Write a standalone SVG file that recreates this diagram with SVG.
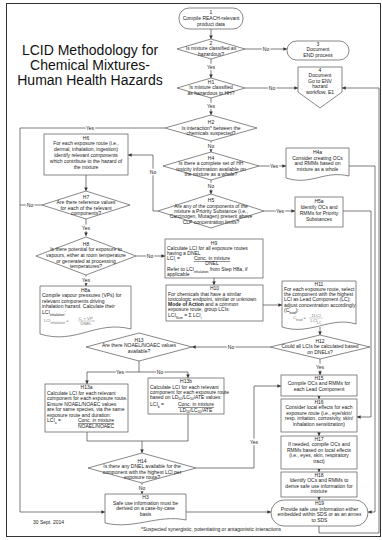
<svg xmlns="http://www.w3.org/2000/svg" width="382" height="540" viewBox="0 0 382 540">
  <defs>
    <marker id="ah" viewBox="0 0 6 6" refX="6" refY="3" markerWidth="3.6" markerHeight="3.6" markerUnits="userSpaceOnUse" orient="auto">
      <path d="M0,0 L6,3 L0,6 z" fill="#333"/>
    </marker>
    <style>
      .b { fill: #fff; stroke: #555; stroke-width: 0.7; }
      .c { fill: none; stroke: #444; stroke-width: 0.7; }
      .a { marker-end: url(#ah); }
      text { font-family: "Liberation Sans", Arial, sans-serif; font-size: 5px; fill: #222; }
      .m { text-anchor: middle; }
      .lb { text-anchor: middle; paint-order: stroke; stroke: #fff; stroke-width: 2.4px; }
      .t { font-size: 14px; text-anchor: middle; fill: #111; }
      .f { fill: #777; font-size: 4.2px; }
      .u { text-decoration: underline; }
      .sub { font-size: 3.4px; }
    </style>
  </defs>

  <rect x="6.5" y="3.5" width="374" height="533" fill="#fff" stroke="#333" stroke-width="1"/>

  <!-- title -->
  <g id="title">
    <text class="t" x="90" y="55">LCID Methodology for</text>
    <text class="t" x="90" y="70">Chemical Mixtures-</text>
    <text class="t" x="90" y="85">Human Health Hazards</text>
  </g>

  <!-- connectors -->
  <g id="connectors">
    <path class="c a" d="M211,29 V39"/>
    <path class="c a" d="M245,49 H287"/>
    <path class="c a" d="M211,59 V78"/>
    <path class="c a" d="M245,88 H298"/>
    <path class="c a" d="M211,98 V115"/>
    <path class="c a" d="M165,128 H20 V512 H105"/>
    <path class="c a" d="M211,141 V152"/>
    <path class="c a" d="M259,166 H286"/>
    <path class="c a" d="M349,166 H375 V512 H368"/>
    <path class="c a" d="M211,180 V194"/>
    <path class="c a" d="M264,211 H295"/>
    <path class="c a" d="M343,211 H371 V417 H357"/>
    <path class="c a" d="M158,211 H153 V155 H128"/>
    <path class="c a" d="M86,175 V191"/>
    <path class="c" d="M42,205 H20"/>
    <path class="c a" d="M86,219 V236"/>
    <path class="c a" d="M136,256 H165"/>
    <path class="c a" d="M86,275 V286"/>
    <path class="c a" d="M214,278 V285"/>
    <path class="c a" d="M263,305 H282"/>
    <path class="c a" d="M320,327 V335"/>
    <path class="c a" d="M270,347 H192"/>
    <path class="c a" d="M320,359 V375"/>
    <path class="c a" d="M139,361 V372 H87 V384"/>
    <path class="c a" d="M139,372 H188 V378"/>
    <path class="c" d="M87,432 V441 H188 V414"/>
    <path class="c a" d="M142,441 V453"/>
    <path class="c a" d="M196,468 H254 V386 H281"/>
    <path class="c a" d="M142,483 V494"/>
    <path class="c a" d="M186,512 H271"/>
    <path class="c a" d="M319,396 V399"/>
    <path class="c a" d="M319,432 V436"/>
    <path class="c a" d="M319,469 V472"/>
    <path class="c a" d="M319,497 V500"/>
    <path class="c a" d="M319,526 V533 H379 V88 H342"/>

    <text class="lb" x="266" y="50.6">No</text>
    <text class="lb" x="211" y="68.5">Yes</text>
    <text class="lb" x="272" y="89.6">No</text>
    <text class="lb" x="211" y="107.5">Yes</text>
    <text class="lb" x="90" y="129.6">Yes</text>
    <text class="lb" x="211" y="148">No</text>
    <text class="lb" x="274" y="167.6">Yes</text>
    <text class="lb" x="211" y="188">No</text>
    <text class="lb" x="280" y="212.6">Yes</text>
    <text class="lb" x="153" y="174">No</text>
    <text class="lb" x="30" y="206.6">No</text>
    <text class="lb" x="86" y="230">Yes</text>
    <text class="lb" x="150" y="257.6">No</text>
    <text class="lb" x="86" y="282">Yes</text>
    <text class="lb" x="231" y="348.6">No</text>
    <text class="lb" x="320" y="368.5">Yes</text>
    <text class="lb" x="120" y="373.6">Yes</text>
    <text class="lb" x="160" y="373.6">No</text>
    <text class="lb" x="254" y="444">Yes</text>
    <text class="lb" x="142" y="490">No</text>
  </g>

  <g id="n1">
    <rect class="b" x="179" y="8" width="64" height="21" rx="10"/>
    <text class="m" x="211" y="13.5">1</text>
    <text class="m" x="211" y="19.5">Compile REACH-relevant</text>
    <text class="m" x="211" y="25.5">product data</text>
  </g>

  <g id="n2">
    <polygon class="b" points="177,49 211,39 245,49 211,59"/>
    <text class="m" x="211" y="44.5">2</text>
    <text class="m" x="211" y="50">Is mixture classified as</text>
    <text class="m" x="211" y="55.5">hazardous?</text>
  </g>

  <g id="n3">
    <rect class="b" x="287" y="41" width="62" height="19" rx="9.5"/>
    <text class="m" x="318" y="45.8">3</text>
    <text class="m" x="318" y="51.4">Document</text>
    <text class="m" x="318" y="57">END process</text>
  </g>

  <g id="H1">
    <polygon class="b" points="177,88 211,78 245,88 211,98"/>
    <text class="m" x="211" y="83.5">H1</text>
    <text class="m" x="211" y="89">Is mixture classified</text>
    <text class="m" x="211" y="94.5">as hazardous to HH?</text>
  </g>

  <g id="n4">
    <path class="b" d="M298,67 H342 V92 L320,108 L298,92 Z"/>
    <text class="m" x="320" y="71.5">4</text>
    <text class="m" x="320" y="77">Document</text>
    <text class="m" x="320" y="82.5">Go to ENV</text>
    <text class="m" x="320" y="88">hazard</text>
    <text class="m" x="320" y="93.5">workflow, E1</text>
  </g>

  <g id="H2">
    <polygon class="b" points="165,128 211,115 257,128 211,141"/>
    <text class="m" x="211" y="124">H2</text>
    <text class="m" x="211" y="129.5">Is interaction* between the</text>
    <text class="m" x="211" y="135">chemicals suspected?</text>
  </g>

  <g id="H4">
    <polygon class="b" points="163,166 211,152 259,166 211,180"/>
    <text class="m" x="211" y="159.5">H4</text>
    <text class="m" x="211" y="165">Is there a complete set of HH</text>
    <text class="m" x="211" y="170.5">toxicity information available on</text>
    <text class="m" x="211" y="176">the mixture as a whole?</text>
  </g>

  <g id="H4a">
    <path class="b" d="M286,148 H349 V176 C324,170 311,186 286,178 Z"/>
    <text class="m" x="317.5" y="154">H4a</text>
    <text class="m" x="317.5" y="159.8">Consider creating OCs</text>
    <text class="m" x="317.5" y="165.4">and RMMs based on</text>
    <text class="m" x="317.5" y="171">mixture as a whole</text>
  </g>

  <g id="H5">
    <polygon class="b" points="158,211 211,194 264,211 211,228"/>
    <text class="m" x="211" y="202.3">H5</text>
    <text class="m" x="211" y="207.6">Are any of the components of the</text>
    <text class="m" x="211" y="212.9">mixture a Priority Substance (i.e.,</text>
    <text class="m" x="211" y="218.2">Carcinogen, Mutagen) present above</text>
    <text class="m" x="211" y="223.5">CLP concentration limits?</text>
  </g>

  <g id="H5a">
    <rect class="b" x="295" y="197" width="48" height="30"/>
    <text class="m" x="319" y="203">H5a</text>
    <text class="m" x="319" y="209">Identify OCs and</text>
    <text class="m" x="319" y="215">RMMs for Priority</text>
    <text class="m" x="319" y="221">Substances</text>
  </g>

  <g id="H6">
    <rect class="b" x="44" y="134" width="84" height="41"/>
    <text class="m" x="86" y="139.5">H6</text>
    <text class="m" x="86" y="145.3">For each exposure route (i.e.,</text>
    <text class="m" x="86" y="151.1">dermal, inhalation, ingestion)</text>
    <text class="m" x="86" y="156.9">identify relevant components</text>
    <text class="m" x="86" y="162.7">which contribute to the hazard of</text>
    <text class="m" x="86" y="168.5">the mixture</text>
  </g>

  <g id="H7">
    <polygon class="b" points="42,205 86,191 130,205 86,219"/>
    <text class="m" x="86" y="198.9">H7</text>
    <text class="m" x="86" y="204.2">Are there reference values</text>
    <text class="m" x="86" y="209.5">for each of the relevant</text>
    <text class="m" x="86" y="214.8">components?</text>
  </g>

  <g id="H8">
    <polygon class="b" points="36,256 86,237 136,256 86,275"/>
    <text class="m" x="86" y="245.8">H8</text>
    <text class="m" x="86" y="251.4">Is there potential for exposure to</text>
    <text class="m" x="86" y="257">vapours, either at room temperature</text>
    <text class="m" x="86" y="262.6">or generated at processing</text>
    <text class="m" x="86" y="268.2">temperatures?</text>
  </g>

  <g id="H8a">
    <path class="b" d="M40,286 H131 V329 C96,320 76,345 40,334 Z"/>
    <text class="m" x="85.5" y="291.5">H8a</text>
    <text x="42" y="297">Compile vapour pressures (VPs) for</text>
    <text x="42" y="302.5">relevant components driving</text>
    <text x="42" y="308">inhalation hazard.  Calculate their</text>
    <text x="42" y="313.5">LCI<tspan class="sub" baseline-shift="sub">inhalation</tspan>:</text>
    <text class="f" x="44" y="322">LCI<tspan class="sub" baseline-shift="sub">inhalation</tspan> =</text>
    <text class="f m" x="86" y="320">C<tspan class="sub" baseline-shift="sub">i</tspan> × VP<tspan class="sub" baseline-shift="sub">i</tspan></text>
    <path d="M78,321 H95" stroke="#888" stroke-width="0.4"/>
    <text class="f m" x="86" y="325">DNEL</text>
  </g>

  <g id="H9">
    <rect class="b" x="165" y="239" width="98" height="39"/>
    <text class="m" x="214" y="244.5">H9</text>
    <text x="167" y="249.7">Calculate LCI for all exposure routes</text>
    <text x="167" y="254.9">having a DNEL</text>
    <text x="167" y="260.1">LCI<tspan class="sub" baseline-shift="sub">i</tspan> =</text>
    <text class="m u" x="212" y="260.1">Conc. in mixture</text>
    <text class="m" x="212" y="265.3">DNEL</text>
    <text x="167" y="270.5">Refer to LCI<tspan class="sub" baseline-shift="sub">inhalation</tspan> from Step H8a, if</text>
    <text x="167" y="275.5">applicable</text>
  </g>

  <g id="H10">
    <rect class="b" x="166" y="285" width="97" height="36"/>
    <text class="m" x="214.5" y="290">H10</text>
    <text x="168" y="295.5">For chemicals that have a similar</text>
    <text x="168" y="300.8">toxicologic endpoint, similar or unknown</text>
    <text x="168" y="306"><tspan font-weight="bold">Mode of Action</tspan> and a common</text>
    <text x="168" y="311.3">exposure route, group LCIs:</text>
    <text x="168" y="316.6">LCI<tspan class="sub" baseline-shift="sub">Sum</tspan> =     Σ LCI<tspan class="sub" baseline-shift="sub">i</tspan></text>
  </g>

  <g id="H11">
    <path class="b" d="M282,281 H356 V324 C330,316 310,336 282,327 Z"/>
    <text class="m" x="319" y="285.5">H11</text>
    <text x="284" y="290.8">For each exposure route, select</text>
    <text x="284" y="296">the component with the highest</text>
    <text x="284" y="301.3">LCI as Lead Component (LC);</text>
    <text x="284" y="306.6">adjust concentration accordingly</text>
    <text x="284" y="311.9">(C<tspan class="sub" baseline-shift="sub">lead</tspan>):</text>
    <text class="f" x="293" y="319">C<tspan class="sub" baseline-shift="sub">lead</tspan> =</text>
    <text class="f m" x="316" y="317">ΣLCI</text>
    <path d="M309,318 H323" stroke="#888" stroke-width="0.4"/>
    <text class="f m" x="316" y="322">LCI<tspan class="sub" baseline-shift="sub">LC</tspan></text>
  </g>

  <g id="H12">
    <polygon class="b" points="270,347 320,335 370,347 320,359"/>
    <text class="m" x="320" y="342.5">H12</text>
    <text class="m" x="320" y="348">Could all LCIs be calculated based</text>
    <text class="m" x="320" y="353.5">on DNELs?</text>
  </g>

  <g id="H13">
    <polygon class="b" points="86,347 139,333 192,347 139,361"/>
    <text class="m" x="139" y="341.5">H13</text>
    <text class="m" x="139" y="347">Are there NOAEL/NOAEC values</text>
    <text class="m" x="139" y="352.5">available?</text>
  </g>

  <g id="H13a">
    <rect class="b" x="45" y="384" width="83" height="48"/>
    <text class="m" x="86.5" y="389">H13a</text>
    <text x="47" y="394.5">Calculate LCI for each relevant</text>
    <text x="47" y="400">component for each exposure route.</text>
    <text x="47" y="405.5">Ensure NOAEL/NOAEC values</text>
    <text x="47" y="411">are for same species, via the same</text>
    <text x="47" y="416.5">exposure route and duration:</text>
    <text x="47" y="422">LCI<tspan class="sub" baseline-shift="sub">a</tspan> =</text>
    <text class="m u" x="96" y="422">Conc. in mixture</text>
    <text class="m" x="96" y="427.5">NOAEL/NOAEC</text>
  </g>

  <g id="H13b">
    <rect class="b" x="148" y="378" width="76" height="36"/>
    <text class="m" x="186" y="383">H13b</text>
    <text x="150" y="388.6">Calculate LCI for each relevant</text>
    <text x="150" y="394.2">component for each exposure route</text>
    <text x="150" y="399.4">based on LD<tspan class="sub" baseline-shift="-0.6">50</tspan>/LC<tspan class="sub" baseline-shift="-0.6">50</tspan>/ATE values:</text>
    <text x="150" y="406">LCI<tspan class="sub" baseline-shift="sub">b</tspan> =</text>
    <text class="m u" x="196" y="406.2">Conc. in mixture</text>
    <text class="m" x="196" y="411.6">LD<tspan class="sub" baseline-shift="-0.6">50</tspan>/LC<tspan class="sub" baseline-shift="-0.6">50</tspan>/ATE</text>
  </g>

  <g id="H14">
    <polygon class="b" points="88,468 142,453 196,468 142,483"/>
    <text class="m" x="142" y="462.5">H14</text>
    <text class="m" x="142" y="468">Is there any DNEL available for the</text>
    <text class="m" x="142" y="473.5">component with the highest LCI per</text>
    <text class="m" x="142" y="479">exposure route?</text>
  </g>

  <g id="H3">
    <path class="b" d="M105,494 H186 V520 C158,514 134,530 105,523 Z"/>
    <text class="m" x="145.5" y="499">H3</text>
    <text class="m" x="145.5" y="504.5">Safe use information must be</text>
    <text class="m" x="145.5" y="510">derived on a case-by-case</text>
    <text class="m" x="145.5" y="515.5">basis</text>
  </g>

  <g id="H15">
    <rect class="b" x="281" y="375" width="76" height="21"/>
    <text class="m" x="319" y="379.8">H15</text>
    <text class="m" x="319" y="385.3">Compile OCs and RMMs for</text>
    <text class="m" x="319" y="390.8">each Lead Component</text>
  </g>

  <g id="H16">
    <rect class="b" x="281" y="399" width="76" height="33"/>
    <text class="m" x="319" y="403.8">H16</text>
    <text class="m" x="319" y="409.3">Consider local effects for each</text>
    <text class="m" x="319" y="414.8">exposure route (i.e., eye/skin/</text>
    <text class="m" x="319" y="420.3">resp. irritation, corrosivity, skin/</text>
    <text class="m" x="319" y="425.8">inhalation sensitization)</text>
  </g>

  <g id="H17">
    <rect class="b" x="281" y="436" width="76" height="33"/>
    <text class="m" x="319" y="440.8">H17</text>
    <text class="m" x="319" y="446.3">If needed, compile OCs and</text>
    <text class="m" x="319" y="451.8">RMMs based on local effects</text>
    <text class="m" x="319" y="457.3">(i.e., eyes, skin, respiratory</text>
    <text class="m" x="319" y="462.8">tract)</text>
  </g>

  <g id="H18">
    <rect class="b" x="281" y="472" width="76" height="25"/>
    <text class="m" x="319" y="476.8">H18</text>
    <text class="m" x="319" y="482.3">Identify OCs and RMMs to</text>
    <text class="m" x="319" y="487.8">derive safe use information for</text>
    <text class="m" x="319" y="493.3">mixture</text>
  </g>

  <g id="H19">
    <rect class="b" x="271" y="500" width="97" height="26" rx="13"/>
    <text class="m" x="319.5" y="505">H19</text>
    <text class="m" x="319.5" y="510.5">Provide safe use information either</text>
    <text class="m" x="319.5" y="516">embedded within SDS or as an annex</text>
    <text class="m" x="319.5" y="521.5">to SDS</text>
  </g>

  <text x="33" y="524">30  Sept. 2014</text>
  <text x="141" y="531">*Suspected synergistic, potentiating or antagonistic interactions</text>
</svg>
